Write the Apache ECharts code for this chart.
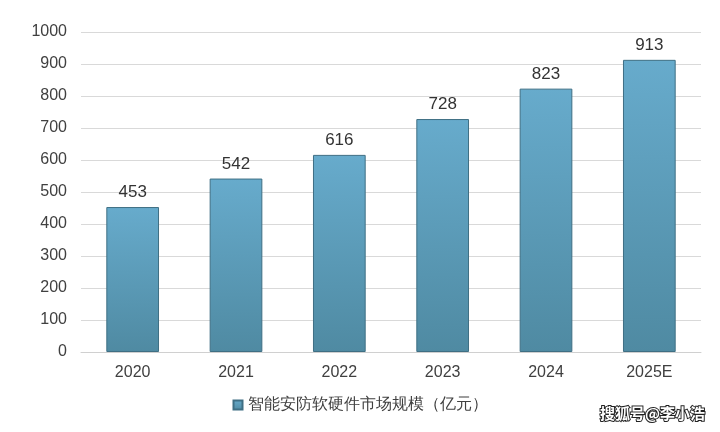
<!DOCTYPE html><html><head><meta charset="utf-8"><script src="https://cdn.jsdelivr.net/npm/echarts@6/dist/echarts.min.js"></script><style>html,body{margin:0;background:#fff}#c{width:720px;height:432px}</style></head><body><div id="c"></div><script>
const categories=['2020','2021','2022','2023','2024','2025E'];
const values=[453,542,616,728,823,913];
const seriesName='智能安防软硬件市场规模（亿元）';
const c=echarts.init(document.getElementById('c'));
c.setOption({
animation:false,
grid:{left:81,right:19,top:32,bottom:80},
xAxis:{type:'category',data:categories,axisTick:{show:false},axisLine:{lineStyle:{color:'#d0d0d0'}},axisLabel:{color:'#404040',fontSize:16,margin:13,fontFamily:'Liberation Sans'}},
yAxis:{type:'value',min:0,max:1000,interval:100,axisLabel:{color:'#404040',fontSize:16,margin:14,fontFamily:'Liberation Sans',formatter:v=>String(v)},splitLine:{lineStyle:{color:'#d9d9d9'}},axisLine:{show:false}},
legend:{bottom:14,left:'center',itemWidth:9,itemHeight:9,icon:'rect',textStyle:{color:'#404040',fontSize:16},data:[seriesName]},
series:[{type:'bar',name:seriesName,data:values,barWidth:'51%',
itemStyle:{borderColor:'#3f6f84',borderWidth:1,color:new echarts.graphic.LinearGradient(0,0,0,1,[{offset:0,color:'#67abcc'},{offset:1,color:'#4f8aa2'}])},
label:{show:true,position:'top',color:'#333',fontSize:17,distance:6,fontFamily:'Liberation Sans'}}],
graphic:[{type:'text',right:14,bottom:10,style:{text:'搜狐号@李小浩',fill:'#fff',stroke:'#222',lineWidth:2,fontSize:15,fontWeight:'bold',fontFamily:'Noto Sans CJK SC'}}]
});
</script></body></html>
